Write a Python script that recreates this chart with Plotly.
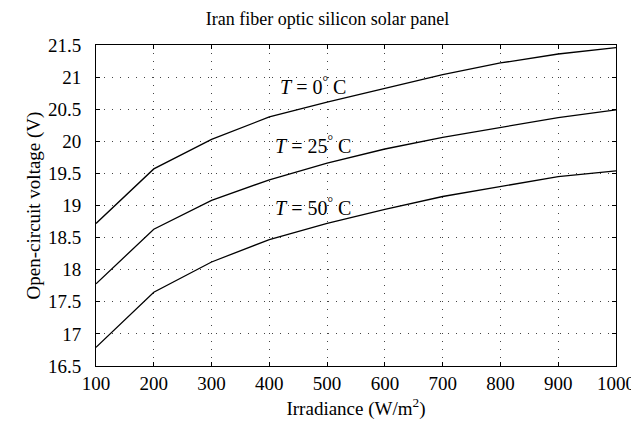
import plotly.graph_objects as go

irradiance = [100, 200, 300, 400, 500, 600, 700, 800, 900, 1000]
voc_0C = [18.72, 19.57, 20.03, 20.38, 20.61, 20.83, 21.04, 21.22, 21.36, 21.46]
voc_25C = [17.78, 18.63, 19.08, 19.40, 19.66, 19.88, 20.06, 20.22, 20.37, 20.49]
voc_50C = [16.79, 17.65, 18.12, 18.47, 18.72, 18.94, 19.14, 19.29, 19.45, 19.54]
labels = ["<i>T</i> = 0<sup>°</sup> C", "<i>T</i> = 25<sup>°</sup> C", "<i>T</i> = 50<sup>°</sup> C"]
label_x = [475, 475, 475]
label_y = [20.86, 19.94, 18.97]
x_ticks = [100, 200, 300, 400, 500, 600, 700, 800, 900, 1000]
y_ticks = [16.5, 17, 17.5, 18, 18.5, 19, 19.5, 20, 20.5, 21, 21.5]

font = "Liberation Serif"
fig = go.Figure()
for ys in (voc_0C, voc_25C, voc_50C):
    fig.add_trace(go.Scatter(x=irradiance, y=ys, mode="lines",
                             line=dict(color="black", width=1.3), showlegend=False))
for t, x, y in zip(labels, label_x, label_y):
    fig.add_annotation(x=x, y=y, text=t, showarrow=False,
                       font=dict(family=font, size=20, color="black"))

axis_common = dict(showline=True, linecolor="black", linewidth=1, mirror="allticks",
                   ticks="inside", ticklen=4, tickcolor="black",
                   showgrid=True, gridcolor="#444", griddash="1px,7px", gridwidth=1,
                   zeroline=False, tickfont=dict(family=font, size=19, color="black"))
fig.update_xaxes(range=[100, 1000], tickvals=x_ticks,
                 title=dict(text="Irradiance (W/m<sup>2</sup>)", font=dict(family=font, size=19, color="black"), standoff=8),
                 **axis_common)
fig.update_yaxes(range=[16.5, 21.5], tickvals=y_ticks,
                 ticktext=[f"{v:g}" for v in y_ticks], ticklabelstandoff=10,
                 title=dict(text="Open-circuit voltage (V)", font=dict(family=font, size=19, color="black"), standoff=2),
                 **axis_common)
fig.update_layout(
    width=639, height=421,
    margin=dict(l=88, r=21, t=37, b=63),
    paper_bgcolor="white", plot_bgcolor="white",
    title=dict(text="Iran fiber optic silicon solar panel", x=0.5, xanchor="center",
               y=0.975, yanchor="middle", font=dict(family=font, size=18, color="black")),
)
fig.write_html("out.html")
